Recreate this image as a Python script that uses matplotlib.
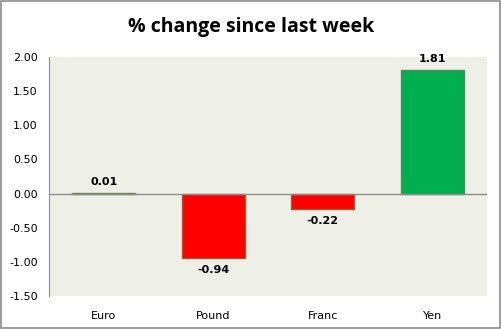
import numpy as np
import matplotlib
matplotlib.use('Agg')
import matplotlib.pyplot as plt
from matplotlib.patches import Rectangle

categorias = ['Euro', 'Pound', 'Franc', 'Yen']
valores = [0.01, -0.94, -0.22, 1.81]
colores = ['#00b050', '#ff0000', '#ff0000', '#00b050']
bordes = ['#6b7f4f', '#9c5a2e', '#9c5a2e', '#4f8a5a']
ticks_y = [-1.5, -1.0, -0.5, 0.0, 0.5, 1.0, 1.5, 2.0]

fig = plt.figure(figsize=(5.02, 3.29), dpi=100)
fig.patch.set_facecolor('white')
fig.add_artist(Rectangle((0.002, 0.003), 0.995, 0.994, transform=fig.transFigure,
                         fill=False, edgecolor='#8c8c8c', linewidth=1.2))

ax = fig.add_axes([49 / 502, 1 - 296 / 329, 438 / 502, 239 / 329])
ax.set_facecolor('#eef0e8')

x = np.arange(len(categorias))
ax.bar(x, valores, width=0.575, color=colores, edgecolor=bordes, linewidth=1)

ax.set_xlim(-0.5, 3.5)
ax.set_ylim(-1.5, 2.0)
ax.set_yticks(ticks_y)
ax.set_yticklabels([f'{t:.2f}' for t in ticks_y], fontsize=8, family='DejaVu Sans')
ax.set_xticks(x)
ax.set_xticklabels(categorias, fontsize=8, family='DejaVu Sans')
ax.tick_params(axis='y', length=0, pad=8)
ax.tick_params(axis='x', length=0, pad=11)

for s in ['top', 'right', 'bottom']:
    ax.spines[s].set_visible(False)
ax.spines['left'].set_color('#8c8c8c')
ax.axhline(0, color='#8c8c8c', linewidth=1)

for xi, v in zip(x, valores):
    if v >= 0:
        ax.annotate(f'{v:.2f}', (xi, v), xytext=(0, 4), textcoords='offset points',
                    ha='center', va='bottom', fontsize=8, fontweight='bold')
    else:
        ax.annotate(f'{v:.2f}', (xi, v), xytext=(0, -5), textcoords='offset points',
                    ha='center', va='top', fontsize=8, fontweight='bold')

fig.text(0.5, 1 - 27 / 329, '% change since last week', ha='center', va='center',
         fontsize=14, fontweight='bold', family='Open Sans')

fig.savefig('out.png', dpi=100)
